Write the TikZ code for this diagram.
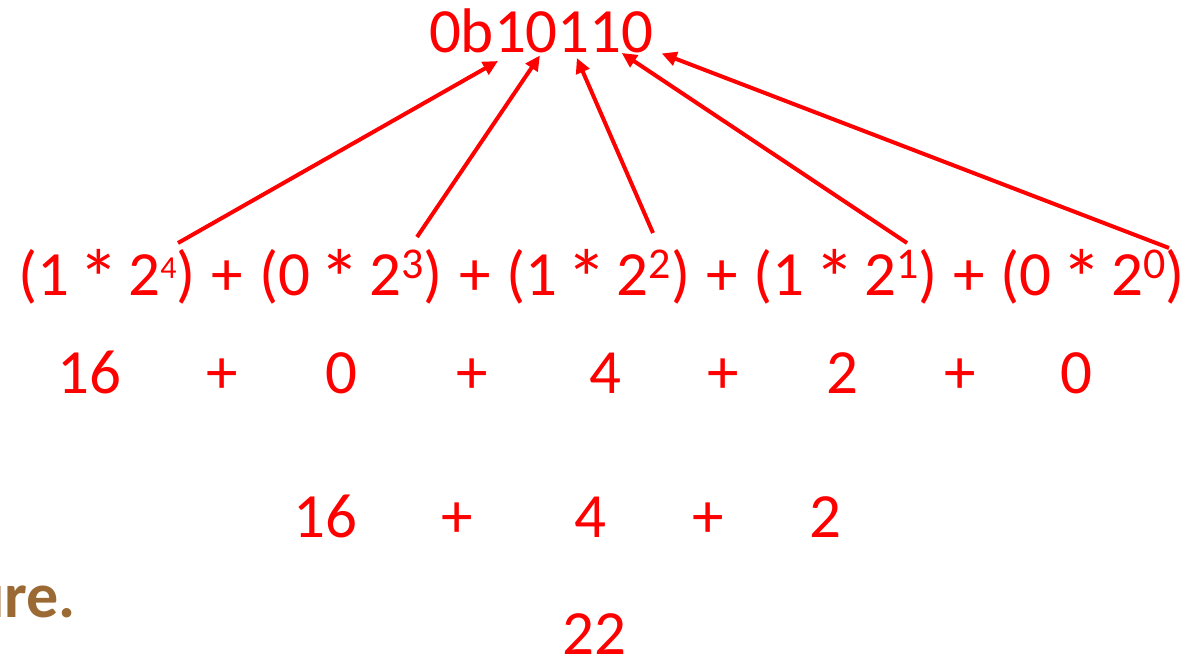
\documentclass[tikz,border=0pt]{standalone}
\usepackage{fontspec}
\setmainfont{Carlito}
\usepackage{tikz}
\usetikzlibrary{arrows.meta,positioning}
\definecolor{slidered}{HTML}{FF0000}
\definecolor{slidebrown}{HTML}{9B6A34}
\newcommand{\expo}[2][44]{\raisebox{17pt}{\fontsize{#1}{#1}\selectfont #2}}
\newcommand{\mul}{\makebox[31pt]{\raisebox{-12pt}{\scalebox{1.3}{*}}}}
\tikzset{
    every picture/.style={line join=round},
    digittext/.style={text=slidered,inner sep=0pt,outer sep=0pt,
      font=\fontsize{63}{70}\selectfont},
    bitarrow/.style={-{Triangle[length=15pt,width=14pt]},draw=slidered,
      line width=4pt,line cap=butt},
    titlefrag/.style={text=slidebrown,inner sep=0pt,
      font=\bfseries\fontsize{64}{70}\selectfont}
}

\begin{document}
\begin{tikzpicture}[x=1pt,y=-1pt]
    \useasboundingbox (0,0) rectangle (1201,663);

    % binary literal, one node per bit
    \node[digittext,anchor=base west] (prefix) at (429,53) {0b};
    \node[digittext,base right=0pt of prefix] (d4) {1};
    \node[digittext,base right=0pt of d4] (d3) {0};
    \node[digittext,base right=0pt of d3] (d2) {1};
    \node[digittext,base right=0pt of d2] (d1) {1};
    \node[digittext,base right=0pt of d1] (d0) {0};

    % place values
    \node[digittext,anchor=base west] (t4) at (18,295) {(1 \mul{} 2\expo[32]{4})};
    \node[digittext,base right=16pt of t4] (plus4) {+};
    \node[digittext,base right=16pt of plus4] (t3) {(0 \mul{} 2\expo{3})};
    \node[digittext,base right=16pt of t3] (plus3) {+};
    \node[digittext,base right=16pt of plus3] (t2) {(1 \mul{} 2\expo{2})};
    \node[digittext,base right=16pt of t2] (plus2) {+};
    \node[digittext,base right=16pt of plus2] (t1) {(1 \mul{} 2\expo{1})};
    \node[digittext,base right=16pt of t1] (plus1) {+};
    \node[digittext,base right=16pt of plus1] (t0) {(0 \mul{} 2\expo{0})};

    \coordinate (s4) at (178,243);
    \coordinate (s3) at (417,237);
    \coordinate (s2) at (653,233);
    \coordinate (s1) at (907,243);
    \coordinate (s0) at (1169,248);
    \draw[bitarrow] (s4) -- ([shift={(4pt,-8pt)}]d4.south west);
    \draw[bitarrow] (s3) -- ([shift={(-2pt,-2pt)}]d3.south);
    \draw[bitarrow] (s2) -- ([shift={(3pt,-5pt)}]d2.south);
    \draw[bitarrow] (s1) -- (d1.south east);
    \draw[bitarrow] (s0) -- ([xshift=8pt]d0.south east);

    % values
    \node[digittext,anchor=base] (v4) at (89,393) {16};
    \node[digittext,anchor=base] (p4) at (222,393) {+};
    \node[digittext,anchor=base] (v3) at (341,393) {0};
    \node[digittext,anchor=base] (p3) at (472,393) {+};
    \node[digittext,anchor=base] (v2) at (605,393) {4};
    \node[digittext,anchor=base] (p2) at (723,393) {+};
    \node[digittext,anchor=base] (v1) at (842,393) {2};
    \node[digittext,anchor=base] (p1) at (960,393) {+};
    \node[digittext,anchor=base] (v0) at (1076,393) {0};

    % non-zero terms
    \node[digittext,anchor=base] (w4) at (325,537) {16};
    \node[digittext,anchor=base] (r4) at (457,537) {+};
    \node[digittext,anchor=base] (w2) at (590,537) {4};
    \node[digittext,anchor=base] (r2) at (708,537) {+};
    \node[digittext,anchor=base] (w1) at (825,537) {2};

    \node[digittext,anchor=base] (total) at (594,654) {22};

    \node[titlefrag,anchor=base east] (cutoff) at (76,617) {ure.};
\end{tikzpicture}
\end{document}
